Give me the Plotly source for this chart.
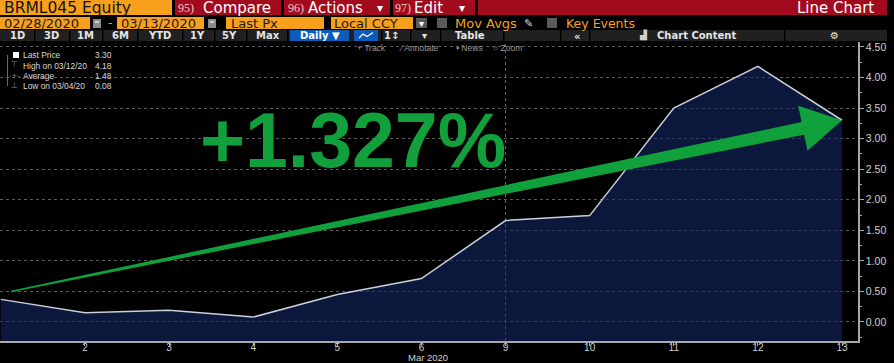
import math
import plotly.graph_objects as go

# ---------------- data ----------------
DATES = ["02/28/20", "03/02/20", "03/03/20", "03/04/20", "03/05/20", "03/06/20",
         "03/09/20", "03/10/20", "03/11/20", "03/12/20", "03/13/20"]
PRICES = [0.37, 0.15, 0.19, 0.08, 0.45, 0.71, 1.66, 1.74, 3.50, 4.18, 3.30]
X_TICK_LABELS = [d.split("/")[1].lstrip("0") for d in DATES[1:]]
MONTH_LABEL = "Mar 2020"
BIG_LABEL = "+1.327%"
TICKER = "BRML045 Equity"

# ---------------- geometry ----------------
W, H = 894, 363
ML, MR, MT, MB = 0, 36, 42, 22
PW, PH = W - ML - MR, H - MT - MB
XR = [-0.01, 10.19]
YR = [-0.311, 4.58]


def X(px):
    return (px - ML) / PW


def Y(py):
    return (H - MB - py) / PH


def d2p(x, y):
    return ((x - XR[0]) / (XR[1] - XR[0]) * PW + ML,
            MT + (YR[1] - y) / (YR[1] - YR[0]) * PH)


def p2d(px, py):
    return (XR[0] + (px - ML) / PW * (XR[1] - XR[0]),
            YR[1] - (py - MT) / PH * (YR[1] - YR[0]))


idx = list(range(len(PRICES)))

fig = go.Figure()
fig.add_trace(go.Scatter(x=idx, y=[YR[0]] * len(idx), mode="lines",
                         line=dict(width=0), hoverinfo="skip", showlegend=False))
fig.add_trace(go.Scatter(x=idx, y=PRICES, mode="lines", fill="tonexty",
                         fillcolor="rgba(20,44,110,0.55)",
                         line=dict(color="#c9cfdb", width=1.5), showlegend=False))

shapes = []
annots = []


def rect(x0, x1, y0, y1, color, layer="above"):
    shapes.append(dict(type="rect", xref="paper", yref="paper",
                       x0=X(x0), x1=X(x1), y0=Y(y1), y1=Y(y0),
                       fillcolor=color, line=dict(width=0), layer=layer))


def text(s, px, py, size, color, anchor="left", family="DejaVu Sans", bold=False):
    annots.append(dict(text=s, xref="paper", yref="paper", x=X(px), y=Y(py),
                       xanchor=anchor, yanchor="middle", showarrow=False,
                       borderpad=0,
                       font=dict(size=size, color=color, family=family,
                                 weight="bold" if bold else "normal")))


ORANGE = "#f6a01d"
RED = "#a20b1d"
BLUE = "#0d5bb8"
BAR = "#202020"

# Row 1
rect(0, 172, 0, 15, ORANGE)
text(TICKER, 3, 8, 15.5, "#111111")
rect(175, 281, 0, 15, RED)
text("95)", 177, 8, 12, "#f3c6c6", family="Liberation Serif")
text("Compare", 202, 8, 15, "#ffffff")
rect(284, 390, 0, 15, RED)
text("96)", 287, 8, 12, "#f3c6c6", family="Liberation Serif")
text("Actions", 307, 8, 15, "#ffffff")
text("▾", 380, 8, 12, "#ffffff", anchor="center")
rect(393, 475, 0, 15, RED)
text("97)", 394, 8, 12, "#f3c6c6", family="Liberation Serif")
text("Edit", 413, 8, 15, "#ffffff")
text("▾", 462, 8, 12, "#ffffff", anchor="center")
rect(478, 887, 0, 15, RED)
text("Line Chart", 875, 8, 15, "#ffffff", anchor="right")

# Row 2
rect(0, 90, 17, 29, ORANGE)
text("02/28/2020", 3, 23.5, 13, "#1a1a1a")
rect(93, 101, 19, 28, "#8c8c8c")
rect(95, 99, 21, 23, "#d0d0d0")
text("-", 110, 23, 12, ORANGE, anchor="center")
rect(117, 204, 17, 29, ORANGE)
text("03/13/2020", 120, 23.5, 13, "#1a1a1a")
rect(208, 216, 19, 28, "#8c8c8c")
rect(210, 214, 21, 23, "#d0d0d0")
rect(226, 324, 17, 29, ORANGE)
text("Last Px", 230, 23.5, 13, "#1a1a1a")
rect(331, 413, 17, 29, ORANGE)
text("Local CCY", 333, 23.5, 13, "#1a1a1a")
rect(416, 427, 18, 28, "#5a5a5a")
text("▾", 421.5, 23, 10, "#ffffff", anchor="center")
rect(437, 447, 18, 28, "#5a5a5a")
text("Mov Avgs", 454, 23.5, 13, ORANGE)
text("✎", 528, 23, 11, "#cfcfcf", anchor="center")
rect(547, 557, 18, 28, "#5a5a5a")
text("Key Events", 565, 23, 12.5, ORANGE)

# Row 3
rect(0, 887, 30, 41, BAR)
for sx in [34, 69, 102, 137, 182, 214, 246, 287, 381, 410, 440, 503, 560, 589, 784]:
    rect(sx, sx + 1.5, 30, 41, "#000000")
for lab, cx in [("1D", 17), ("3D", 51), ("1M", 85), ("6M", 120), ("YTD", 159),
                ("1Y", 197), ("5Y", 229), ("Max", 268)]:
    text(lab, cx, 35.5, 10, "#e4e4e4", anchor="center", bold=True)
rect(290, 349, 30, 41, BLUE)
text("Daily ▼", 320, 35.5, 10, "#ffffff", anchor="center", bold=True)
rect(354, 378, 30, 41, BLUE)
ic = [(359, 38), (363, 34), (367, 36.5), (373, 32.5)]
shapes.append(dict(type="path", xref="paper", yref="paper",
                   path="M " + " L ".join(f"{X(a)},{Y(b)}" for a, b in ic),
                   line=dict(color="#ffffff", width=1.2), layer="above"))
text("1↕", 391, 35.5, 10, "#e4e4e4", anchor="center", bold=True)
text("▾", 424, 35.5, 10, "#e4e4e4", anchor="center")
text("Table", 470, 35.5, 10, "#e4e4e4", anchor="center", bold=True)
text("«", 577, 36, 10, "#e4e4e4", anchor="center", bold=True)
text("▟", 643, 35.5, 9, "#d0d0d0", anchor="center")
text("Chart Content", 656, 35.5, 10, "#e4e4e4", bold=True)
text("⚙", 834, 35.5, 10, "#e4e4e4", anchor="center")

# Row 4 tools
text("+ Track", 356, 48, 8.5, "#9a9a9a", family="Liberation Sans")
text("⁄ Annotate", 398, 48, 8.5, "#9a9a9a", family="Liberation Sans")
text("▪ News", 455, 48, 8.5, "#9a9a9a", family="Liberation Sans")
text("○ Zoom", 492, 48, 8.5, "#9a9a9a", family="Liberation Sans")

# Legend block
hi = max(PRICES)
lo = min(PRICES)
avg = sum(PRICES) / len(PRICES)
hi_d = DATES[PRICES.index(hi)]
lo_d = DATES[PRICES.index(lo)]
rows = [("Last Price", PRICES[-1]), (f"High on {hi_d}", hi),
        ("Average", avg), (f"Low on {lo_d}", lo)]
rect(7, 8, 55, 86, "#6a6a6a")
rect(13, 19, 52, 58, "#ffffff")
text("⊤", 14, 65, 8, "#8a8a8a", anchor="center")
text("-+-", 14, 75.5, 7, "#8a8a8a", anchor="center")
text("⊥", 14, 85.5, 8, "#8a8a8a", anchor="center")
for i, (lab, v) in enumerate(rows):
    yy = 55.5 + i * 10.2
    text(lab, 22, yy, 8.4, "#d8d8d8", family="Liberation Sans")
    text(f"{v:.2f}", 113, yy, 8.4, "#d8d8d8", anchor="right", family="Liberation Sans")

# Month label
text(MONTH_LABEL, 428, 357, 9.5, "#cfcfcf", anchor="center", family="Liberation Sans")

# Vertical week separator at first trading day of the week of Mar 9
shapes.append(dict(type="line", xref="x", yref="y", x0=6, x1=6, y0=YR[0], y1=YR[1],
                   line=dict(color="#6a6a6a", width=1, dash="dot"), layer="below"))

# Arrow (tapered shaft + head) built in pixel space, expressed in data coordinates
ARROW_FROM = (0.12, 0.50)
ARROW_TO = (idx[-1], PRICES[-1])
sx, sy = d2p(*ARROW_FROM)
tx, ty = d2p(*ARROW_TO)
L = math.hypot(tx - sx, ty - sy)
ux, uy = (tx - sx) / L, (ty - sy) / L
nx, ny = -uy, ux
head_len, head_half, w0, w1 = 40, 23, 1.5, 13
bx, by = tx - ux * head_len, ty - uy * head_len
pts = [(sx + nx * w0 / 2, sy + ny * w0 / 2),
       (bx + nx * w1 / 2, by + ny * w1 / 2),
       (bx + nx * head_half, by + ny * head_half),
       (tx, ty),
       (bx - nx * head_half, by - ny * head_half),
       (bx - nx * w1 / 2, by - ny * w1 / 2),
       (sx - nx * w0 / 2, sy - ny * w0 / 2)]
dpts = [p2d(a, b) for a, b in pts]
path = "M " + " L ".join(f"{a:.4f},{b:.4f}" for a, b in dpts) + " Z"
shapes.append(dict(type="path", xref="x", yref="y", path=path,
                   fillcolor="#10a03c", line=dict(width=0), layer="above"))

# Big label
annots.append(dict(text=BIG_LABEL, xref="paper", yref="paper", x=X(353), y=Y(140),
                   xanchor="center", yanchor="middle", showarrow=False,
                   font=dict(size=77, color="#12a03c", family="Liberation Sans",
                             weight="bold")))

fig.update_layout(
    width=W, height=H,
    margin=dict(l=ML, r=MR, t=MT, b=MB, pad=0),
    paper_bgcolor="#000000", plot_bgcolor="#000000",
    showlegend=False,
    shapes=shapes, annotations=annots,
    xaxis=dict(range=XR, tickmode="array", tickvals=idx[1:], ticktext=X_TICK_LABELS,
               showgrid=False, zeroline=False, showline=True, linecolor="#a8a8a8",
               linewidth=2, ticks="outside", ticklen=3, tickcolor="#a8a8a8",
               ticklabelstandoff=-7,
               tickfont=dict(size=10, color="#cfcfcf", family="Liberation Sans"),
               fixedrange=True),
    yaxis=dict(range=YR, side="right", tick0=0, dtick=0.5, tickformat=".2f",
               showgrid=True, gridcolor="#5a5a5a", griddash="dot", gridwidth=1,
               zeroline=False, showline=True, linecolor="#a8a8a8", linewidth=1.5,
               ticks="outside", ticklen=4, tickcolor="#a8a8a8",
               minor=dict(dtick=0.25, tick0=0, ticks="outside", ticklen=2,
                          tickcolor="#a8a8a8", showgrid=False),
               tickfont=dict(size=10.5, color="#d4d0c8", family="Liberation Sans"),
               fixedrange=True),
)

fig.write_html("out.html", config={"displayModeBar": False},
               post_script="document.body.style.margin='0';document.body.style.background='#000';")
